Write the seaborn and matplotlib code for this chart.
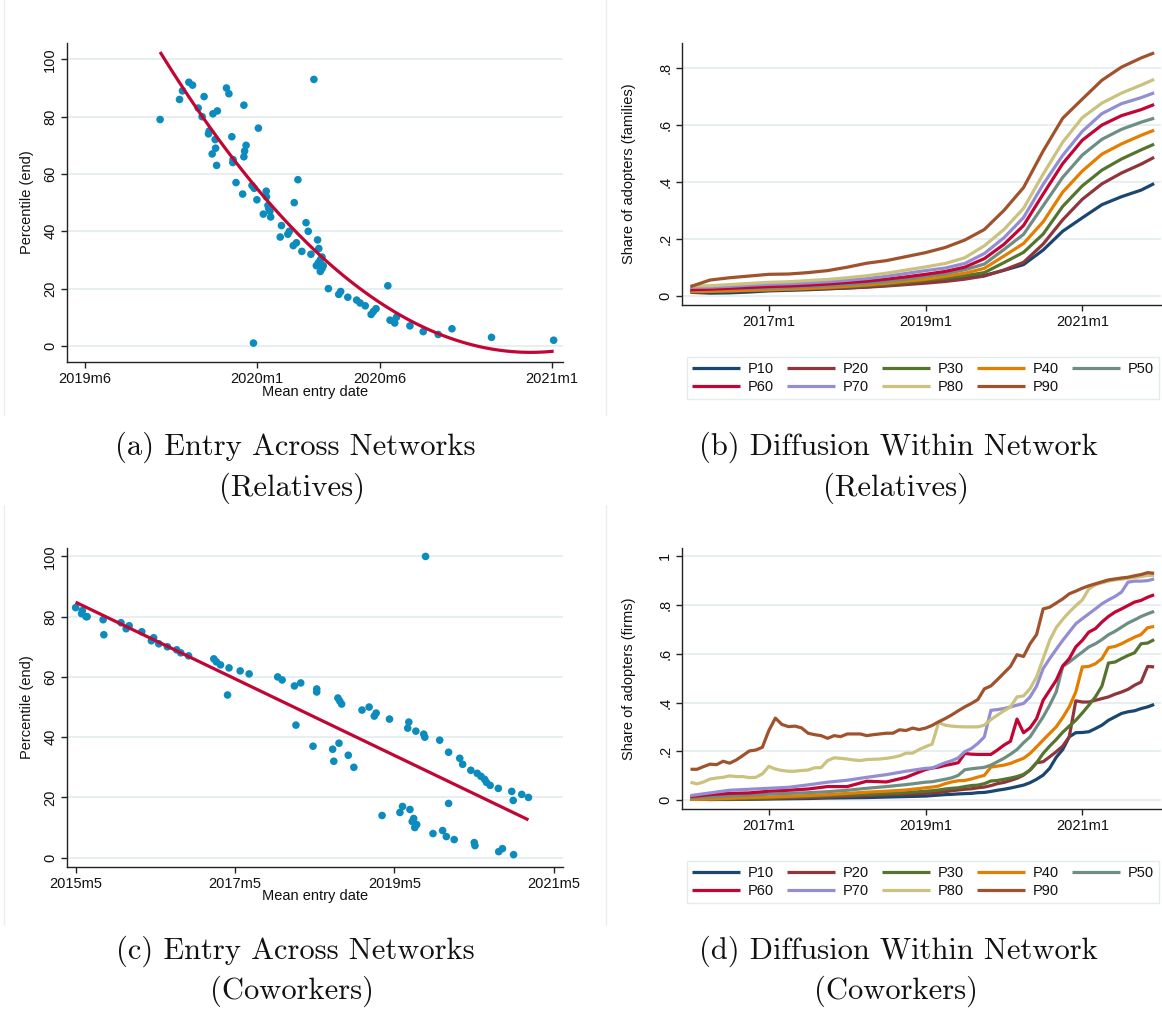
import numpy as np
import pandas as pd
import matplotlib
matplotlib.use("Agg")
import matplotlib.pyplot as plt
import seaborn as sns
from matplotlib.lines import Line2D

sns.set_theme(style="white")
plt.rcParams['font.family'] = ['Liberation Sans', 'DejaVu Sans']

# ---------------- data ----------------
# Panel (a): entry across networks (relatives); x = Stata monthly date
a_x = [716.06, 716.85, 716.97, 717.23, 717.38, 717.61, 717.77, 717.85, 718.03, 718.06,
       718.18, 718.21, 718.30, 718.32, 718.36, 718.39, 718.76, 718.86, 718.98, 719.02,
       719.03, 719.15, 719.42, 719.47, 719.47, 719.50, 719.56, 719.80, 719.86, 719.89,
       720.00, 720.06, 720.26, 720.38, 720.39, 720.45, 720.48, 720.53, 720.56, 720.95,
       721.00, 721.26, 721.32, 721.48, 721.61, 721.52, 721.67, 721.83, 722.00, 722.09,
       722.20, 722.32, 722.47, 722.52, 722.42, 722.50, 722.58, 722.65, 722.58, 722.65,
       722.70, 722.91, 723.33, 723.41, 723.70, 724.06, 724.20, 724.41, 724.65, 724.74,
       724.85, 725.33, 725.42, 725.61, 725.68, 726.23, 726.77, 727.38, 727.94, 729.55,
       732.08]
a_y = [79, 86, 89, 92, 91, 83, 80, 87, 74, 75,
       67, 81, 72, 69, 63, 82, 90, 88, 73, 64,
       65, 57, 53, 84, 66, 68, 70, 56, 1, 55,
       51, 76, 46, 54, 52, 49, 48, 47, 45, 38,
       42, 39, 40, 35, 36, 50, 58, 33, 43, 40,
       32, 93, 37, 34, 28, 29, 30, 31, 26, 27,
       28, 20, 18, 19, 17, 16, 15, 14, 11, 12,
       13, 21, 9, 8, 10, 7, 5, 4, 6, 3,
       2]

# Panel (c): entry across networks (coworkers)
c_x = [664.00, 665.01, 664.90, 665.73, 665.57, 668.14, 668.25, 670.83, 671.61, 672.06,
       673.96, 675.41, 675.75, 676.53, 677.82, 679.22, 679.83, 681.01, 684.81, 685.20,
       685.82, 686.88, 687.10, 688.78, 690.13, 694.43, 695.10, 696.95, 697.18, 697.90,
       699.75, 700.31, 700.31, 702.71, 702.88, 703.50, 703.78, 704.06, 703.66, 705.06,
       705.90, 707.13, 708.20, 708.98, 709.26, 710.15, 711.27, 712.84, 713.23, 714.01,
       714.18, 714.35, 714.69, 714.91, 715.08, 715.36, 715.24, 716.42, 716.59, 716.70,
       717.82, 718.83, 719.27, 719.83, 720.17, 720.17, 721.01, 721.85, 722.29, 723.52,
       724.03, 724.14, 724.48, 725.04, 725.60, 725.87, 726.43, 727.66, 727.72, 728.28,
       729.68, 729.90, 729.96, 731.19, 732.20]
c_y = [83, 82, 81, 80, 80, 79, 74, 78, 76, 77,
       75, 72, 73, 71, 70, 69, 68, 67, 66, 65,
       64, 54, 63, 62, 61, 60, 59, 57, 44, 58,
       37, 56, 55, 36, 32, 53, 52, 51, 38, 34,
       30, 49, 50, 47, 48, 14, 46, 15, 17, 43,
       45, 16, 12, 13, 10, 11, 42, 41, 40, 100,
       8, 39, 9, 7, 35, 18, 6, 33, 31, 29,
       5, 4, 28, 27, 26, 25, 24, 23, 2, 3,
       22, 19, 1, 21, 20]

series = ["P10", "P20", "P30", "P40", "P50", "P60", "P70", "P80", "P90"]
colors = ["#1a476f", "#90353b", "#55752f", "#e37e00", "#6e8e84",
          "#c10534", "#938dd2", "#cac27e", "#a0522d"]

# Panel (b): diffusion within network (relatives), quarterly reading
b_months = list(range(672, 742, 3)) + [743]
b_p10 = [0.013, 0.010, 0.011, 0.014, 0.018, 0.020, 0.022, 0.025, 0.028, 0.032, 0.037, 0.043, 0.050,
         0.057, 0.063, 0.072, 0.090, 0.110, 0.161, 0.227, 0.274, 0.320, 0.348, 0.371, 0.394]
b_p20 = [0.016, 0.016, 0.017, 0.019, 0.021, 0.022, 0.024, 0.026, 0.028, 0.031, 0.035, 0.040, 0.045,
         0.051, 0.059, 0.070, 0.091, 0.118, 0.182, 0.267, 0.339, 0.393, 0.431, 0.462, 0.486]
b_p30 = [0.018, 0.017, 0.018, 0.020, 0.022, 0.024, 0.026, 0.029, 0.032, 0.036, 0.041, 0.047, 0.055,
         0.062, 0.071, 0.082, 0.117, 0.153, 0.217, 0.314, 0.386, 0.441, 0.480, 0.512, 0.532]
b_p40 = [0.015, 0.016, 0.018, 0.020, 0.022, 0.024, 0.027, 0.030, 0.034, 0.039, 0.045, 0.052, 0.059,
         0.069, 0.080, 0.097, 0.140, 0.184, 0.260, 0.364, 0.438, 0.497, 0.533, 0.563, 0.581]
b_p50 = [0.028, 0.026, 0.026, 0.027, 0.028, 0.030, 0.033, 0.036, 0.040, 0.045, 0.051, 0.059, 0.069,
         0.078, 0.092, 0.112, 0.163, 0.216, 0.316, 0.416, 0.494, 0.549, 0.584, 0.609, 0.623]
b_p60 = [0.022, 0.024, 0.027, 0.030, 0.033, 0.035, 0.038, 0.042, 0.047, 0.052, 0.059, 0.067, 0.076,
         0.086, 0.101, 0.131, 0.181, 0.247, 0.357, 0.464, 0.546, 0.599, 0.632, 0.653, 0.671]
b_p70 = [0.030, 0.031, 0.034, 0.038, 0.041, 0.043, 0.046, 0.050, 0.055, 0.061, 0.069, 0.079, 0.089,
         0.098, 0.114, 0.149, 0.204, 0.275, 0.391, 0.493, 0.577, 0.639, 0.674, 0.695, 0.712]
b_p80 = [0.035, 0.036, 0.040, 0.044, 0.048, 0.050, 0.054, 0.058, 0.064, 0.071, 0.080, 0.091, 0.102,
         0.114, 0.134, 0.176, 0.233, 0.307, 0.427, 0.539, 0.625, 0.676, 0.711, 0.739, 0.759]
b_p90 = [0.033, 0.056, 0.064, 0.070, 0.076, 0.077, 0.082, 0.089, 0.101, 0.115, 0.124, 0.138, 0.152,
         0.170, 0.196, 0.233, 0.300, 0.380, 0.508, 0.623, 0.690, 0.756, 0.802, 0.834, 0.852]

# Panel (d): diffusion within network (coworkers)
d_months_full = list(range(672, 744))                              # monthly
d_months_mixed = list(range(672, 708, 3)) + list(range(708, 744))  # quarterly, then monthly
d_p10 = [0.003, 0.002, 0.002, 0.003, 0.004, 0.005, 0.006, 0.008, 0.009, 0.010, 0.012, 0.014,
         0.016, 0.018, 0.020, 0.022, 0.023, 0.025, 0.026, 0.027, 0.030, 0.031,
         0.035, 0.040, 0.044, 0.049, 0.055, 0.061,
         0.071, 0.085, 0.102, 0.130, 0.175, 0.207, 0.259, 0.276,
         0.277, 0.280, 0.293, 0.307,
         0.327, 0.341, 0.355, 0.362, 0.366, 0.375, 0.382, 0.392]
d_p20 = [0.005, 0.004, 0.004, 0.005, 0.006, 0.008, 0.010, 0.012, 0.015, 0.018, 0.021, 0.024,
         0.027, 0.029, 0.031, 0.034, 0.038, 0.041, 0.044, 0.046, 0.050, 0.053,
         0.059, 0.067, 0.072, 0.080, 0.089, 0.102,
         0.123, 0.153, 0.157, 0.177, 0.198, 0.221, 0.259, 0.407,
         0.402, 0.402, 0.409, 0.416,
         0.423, 0.434, 0.443, 0.454, 0.471, 0.484, 0.548, 0.546]
d_p30 = [0.003, 0.002, 0.003, 0.005, 0.008, 0.011, 0.014, 0.017, 0.020, 0.023, 0.026, 0.030,
         0.036, 0.038, 0.041, 0.045, 0.048, 0.050, 0.055, 0.059, 0.061, 0.067,
         0.078, 0.080, 0.085, 0.090, 0.096, 0.105,
         0.123, 0.153, 0.191, 0.221, 0.248, 0.278, 0.303, 0.327,
         0.357, 0.389, 0.423, 0.467,
         0.562, 0.566, 0.580, 0.593, 0.604, 0.641, 0.644, 0.658]
d_p40 = [0.002, 0.004, 0.007, 0.010, 0.012, 0.015, 0.018, 0.022, 0.027, 0.032, 0.036, 0.041,
         0.050, 0.053, 0.057, 0.067, 0.074, 0.079, 0.080, 0.086, 0.094, 0.101,
         0.135, 0.139, 0.143, 0.150, 0.161, 0.171,
         0.191, 0.218, 0.246, 0.273, 0.300, 0.338, 0.382, 0.443,
         0.546, 0.548, 0.559, 0.580,
         0.625, 0.630, 0.641, 0.655, 0.668, 0.679, 0.707, 0.712]
d_p50 = [0.010, 0.012, 0.016, 0.020, 0.024, 0.027, 0.030, 0.034, 0.040, 0.048, 0.055, 0.063,
         0.073, 0.075, 0.080, 0.085, 0.091, 0.101, 0.124, 0.128, 0.131, 0.134,
         0.143, 0.157, 0.171, 0.188, 0.207, 0.235,
         0.259, 0.300, 0.341, 0.389, 0.443, 0.548, 0.566, 0.587,
         0.607, 0.628, 0.641, 0.658,
         0.678, 0.692, 0.709, 0.726, 0.739, 0.753, 0.764, 0.774]
d_p60 = [0.014, 0.022, 0.027, 0.029, 0.036, 0.040, 0.045, 0.055, 0.055, 0.077, 0.074, 0.093,
         0.125, 0.131, 0.135, 0.142, 0.147, 0.153, 0.191, 0.188, 0.187, 0.187,
         0.187, 0.205, 0.225, 0.241, 0.332, 0.276,
         0.296, 0.334, 0.409, 0.450, 0.491, 0.550, 0.580, 0.628,
         0.655, 0.689, 0.703, 0.730,
         0.753, 0.771, 0.784, 0.798, 0.812, 0.819, 0.832, 0.842]
d_p70 = [0.018, 0.029, 0.040, 0.044, 0.048, 0.052, 0.062, 0.073, 0.081, 0.093, 0.104, 0.118,
         0.130, 0.131, 0.142, 0.153, 0.161, 0.173, 0.198, 0.211, 0.232, 0.259,
         0.368, 0.371, 0.375, 0.382, 0.389, 0.396,
         0.423, 0.467, 0.539, 0.580, 0.618, 0.655, 0.689, 0.723,
         0.744, 0.764, 0.784, 0.805,
         0.821, 0.835, 0.853, 0.894, 0.898, 0.898, 0.900, 0.907]
d_p80 = [0.073, 0.066, 0.074, 0.086, 0.090, 0.093, 0.099, 0.096, 0.096, 0.092, 0.093, 0.107,
         0.138, 0.127, 0.121, 0.118, 0.118, 0.121, 0.123, 0.132, 0.133, 0.162, 0.173, 0.171,
         0.168, 0.164, 0.162, 0.166, 0.167, 0.168, 0.171, 0.175, 0.181, 0.192, 0.192, 0.207,
         0.219,
         0.229, 0.318, 0.307, 0.303, 0.301, 0.300, 0.300, 0.300, 0.307, 0.330, 0.348, 0.366,
         0.382, 0.423, 0.427, 0.457, 0.505, 0.580, 0.655, 0.707, 0.741, 0.771, 0.797, 0.821,
         0.866, 0.883, 0.891, 0.898, 0.903, 0.906, 0.910, 0.913, 0.917, 0.921, 0.922]
d_p90 = [0.126, 0.126, 0.137, 0.147, 0.145, 0.159, 0.151, 0.164, 0.182, 0.201, 0.205, 0.216,
         0.285, 0.336, 0.310, 0.301, 0.303, 0.296, 0.274, 0.268, 0.264, 0.253, 0.264, 0.260,
         0.271, 0.271, 0.271, 0.264, 0.268, 0.271, 0.274, 0.274, 0.288, 0.285, 0.295, 0.289,
         0.295,
         0.306, 0.321, 0.334, 0.349, 0.366, 0.382, 0.396, 0.412, 0.456, 0.468, 0.494, 0.521,
         0.548, 0.596, 0.589, 0.641, 0.679, 0.784, 0.791, 0.808, 0.825, 0.846, 0.857, 0.869,
         0.879, 0.887, 0.895, 0.903, 0.907, 0.911, 0.914, 0.920, 0.925, 0.933, 0.930]

# axis tick labels
a_ticks, a_ticklabels = [713, 720, 725, 732], ["2019m6", "2020m1", "2020m6", "2021m1"]
c_ticks, c_ticklabels = [664, 688, 712, 736], ["2015m5", "2017m5", "2019m5", "2021m5"]
bd_ticks, bd_ticklabels = [684, 708, 732], ["2017m1", "2019m1", "2021m1"]
pct_ticks, pct_ticklabels = [0, 20, 40, 60, 80, 100], ["0", "20", "40", "60", "80", "100"]
b_yticks, b_yticklabels = [0, 0.2, 0.4, 0.6, 0.8], ["0", ".2", ".4", ".6", ".8"]
d_yticks, d_yticklabels = [0, 0.2, 0.4, 0.6, 0.8, 1.0], ["0", ".2", ".4", ".6", ".8", "1"]

# ---------------- build long tables ----------------
b_vals = [b_p10, b_p20, b_p30, b_p40, b_p50, b_p60, b_p70, b_p80, b_p90]
df_b = pd.concat([pd.DataFrame({"month": b_months, "share": v, "series": s})
                  for s, v in zip(series, b_vals)], ignore_index=True)
d_vals = [d_p10, d_p20, d_p30, d_p40, d_p50, d_p60, d_p70, d_p80, d_p90]
d_frames = []
for s, v in zip(series, d_vals):
    m = d_months_full if len(v) == len(d_months_full) else d_months_mixed
    d_frames.append(pd.DataFrame({"month": m, "share": v, "series": s}))
df_d = pd.concat(d_frames, ignore_index=True)
df_a = pd.DataFrame({"date": a_x, "pct": a_y})
df_c = pd.DataFrame({"date": c_x, "pct": c_y})

# ---------------- figure ----------------
W, H = 1162, 1010
fig = plt.figure(figsize=(W / 100, H / 100), dpi=100)

def rect(l, t, r, b):
    return [l / W, 1 - b / H, (r - l) / W, (b - t) / H]

ax_a = fig.add_axes(rect(67, 43, 563, 362))
ax_b = fig.add_axes(rect(682, 43, 1161, 305))
ax_c = fig.add_axes(rect(67, 548, 563, 867))
ax_d = fig.add_axes(rect(682, 548, 1161, 809))

GRID = "#e6eef0"
SPINE = "#222222"
DOT = "#0c8bbf"
FIT = "#c10534"
LW = 2.3

def style(ax, xlim, ylim, xt, xtl, yt, ytl):
    ax.set_xlim(*xlim)
    ax.set_ylim(*ylim)
    ax.set_xticks(xt)
    ax.set_xticklabels(xtl)
    ax.set_yticks(yt)
    ax.set_yticklabels(ytl, rotation=90, va="center")
    for s in ["top", "right"]:
        ax.spines[s].set_visible(False)
    for s in ["left", "bottom"]:
        ax.spines[s].set_color(SPINE)
        ax.spines[s].set_linewidth(1.0)
    ax.tick_params(axis="both", direction="out", length=4, width=1, color=SPINE,
                   labelsize=10.5, labelcolor="#111111", pad=3, left=True, bottom=True)
    ax.grid(False)
    ax.yaxis.grid(True, color=GRID, lw=1.3)
    ax.set_axisbelow(True)
    ax.set_facecolor("white")

# (a)
sns.scatterplot(data=df_a, x="date", y="pct", ax=ax_a, color=DOT, s=30,
                edgecolor="none", linewidth=0, zorder=3)
sns.regplot(data=df_a, x="date", y="pct", ax=ax_a, order=2, ci=None, scatter=False,
            line_kws={"color": FIT, "lw": LW, "zorder": 4})
style(ax_a, (712.27, 732.46), (-5.6, 105.7), a_ticks, a_ticklabels, pct_ticks, pct_ticklabels)

# (c)
sns.scatterplot(data=df_c, x="date", y="pct", ax=ax_c, color=DOT, s=30,
                edgecolor="none", linewidth=0, zorder=3)
sns.regplot(data=df_c, x="date", y="pct", ax=ax_c, order=1, ci=None, scatter=False,
            line_kws={"color": FIT, "lw": LW, "zorder": 4})
style(ax_c, (662.7, 737.4), (-3.1, 102.8), c_ticks, c_ticklabels, pct_ticks, pct_ticklabels)

pal = dict(zip(series, colors))
sns.lineplot(data=df_b, x="month", y="share", hue="series", hue_order=series, palette=pal,
             ax=ax_b, lw=LW, legend=False, estimator=None, sort=True)
style(ax_b, (670.7, 744.05), (-0.0315, 0.8865), bd_ticks, bd_ticklabels, b_yticks, b_yticklabels)

sns.lineplot(data=df_d, x="month", y="share", hue="series", hue_order=series, palette=pal,
             ax=ax_d, lw=LW, legend=False, estimator=None, sort=True)
style(ax_d, (670.7, 744.05), (-0.037, 1.034), bd_ticks, bd_ticklabels, d_yticks, d_yticklabels)

for ax in (ax_a, ax_b, ax_c, ax_d):
    for ln in ax.get_lines():
        ln.set_solid_capstyle("butt")

# axis labels
for ax, lab, xc in [(ax_a, "Percentile (end)", -0.081), (ax_c, "Percentile (end)", -0.081),
                    (ax_b, "Share of adopters (families)", -0.111),
                    (ax_d, "Share of adopters (firms)", -0.111)]:
    ax.set_ylabel(lab, fontsize=10.5, color="#111111")
    ax.yaxis.label.set_va("center")
    ax.yaxis.set_label_coords(xc, 0.5)
for ax, yc in [(ax_a, -0.094), (ax_c, -0.092)]:
    ax.set_xlabel("Mean entry date", fontsize=10.5, color="#111111")
    ax.xaxis.label.set_va("center")
    ax.xaxis.set_label_coords(0.5, yc)
ax_b.set_xlabel("")
ax_d.set_xlabel("")

# legends (row-wise order like Stata)
order = [0, 5, 1, 6, 2, 7, 3, 8, 4]
handles = [Line2D([], [], color=colors[i], lw=LW, solid_capstyle="butt") for i in order]
labels = [series[i] for i in order]
for top, bot in [(352, 399), (857, 903)]:
    leg = fig.legend(handles, labels, loc="lower left",
                     bbox_to_anchor=(687 / W, 1 - bot / H, 472 / W, (bot - top) / H),
                     bbox_transform=fig.transFigure, ncol=5, mode="expand",
                     frameon=True, fancybox=False, fontsize=10.5, handlelength=3.3,
                     handletextpad=0.5, borderaxespad=0, labelspacing=0.25,
                     borderpad=0.35, columnspacing=1.0)
    leg.get_frame().set_edgecolor("#dde6e8")
    leg.get_frame().set_linewidth(1.0)
    for t in leg.get_texts():
        t.set_color("#111111")

# captions
cap = dict(family="cmr10", fontsize=22, ha="center", va="center", color="#111111")
fig.text(295 / W, 1 - 447 / H, "(a) Entry Across Networks", **cap)
fig.text(292 / W, 1 - 488 / H, "(Relatives)", **cap)
fig.text(898 / W, 1 - 447 / H, "(b) Diffusion Within Network", **cap)
fig.text(896 / W, 1 - 488 / H, "(Relatives)", **cap)
fig.text(295 / W, 1 - 951 / H, "(c) Entry Across Networks", **cap)
fig.text(292 / W, 1 - 991 / H, "(Coworkers)", **cap)
fig.text(898 / W, 1 - 951 / H, "(d) Diffusion Within Network", **cap)
fig.text(896 / W, 1 - 991 / H, "(Coworkers)", **cap)

# faint sub-figure borders
for x0 in (4, 606):
    for y0, y1 in [(0, 415), (505, 925)]:
        fig.add_artist(Line2D([x0 / W, x0 / W], [1 - y0 / H, 1 - y1 / H],
                              color="#eeeeee", lw=1.0))

fig.savefig("out.png", dpi=100, facecolor="white")
